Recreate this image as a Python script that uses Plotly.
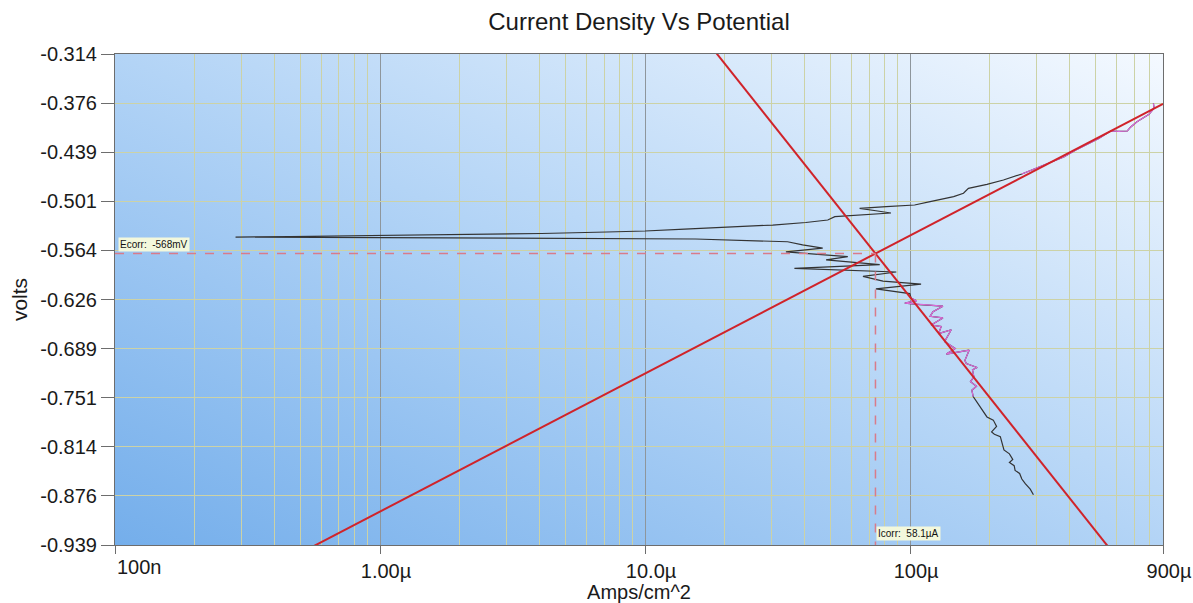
import base64
import numpy as np
import plotly.graph_objects as go

# Potentiodynamic scan: current density (A/cm^2) and potential (V), in scan order
scan_i = [
    2.92e-4, 2.84e-4, 2.72e-4, 2.64e-4, 2.59e-4, 2.49e-4, 2.47e-4, 2.37e-4, 2.44e-4, 2.37e-4,
    2.26e-4, 2.22e-4, 2.19e-4, 2.08e-4, 2.03e-4, 2.12e-4, 2.06e-4, 1.95e-4, 1.89e-4, 1.81e-4, 1.73e-4,
    1.71e-4, 1.78e-4, 1.69e-4, 1.74e-4, 1.72e-4, 1.79e-4, 1.63e-4, 1.61e-4, 1.67e-4, 1.37e-4,
    1.48e-4, 1.35e-4, 1.43e-4, 1.28e-4, 1.31e-4, 1.20e-4, 1.33e-4, 1.19e-4, 1.22e-4, 1.33e-4,
    1.09e-4, 9.55e-5, 1.06e-4, 1.01e-4,
    9.97e-5, 7.43e-5, 1.10e-4, 7.90e-5, 6.64e-5, 8.87e-5, 3.66e-5, 7.68e-5, 4.82e-5, 5.82e-5,
    3.40e-5, 4.68e-5, 3.93e-5, 3.45e-5, 1.55e-5, 6.30e-6, 2.63e-6, 1.26e-6, 6.52e-7, 3.87e-7,
    2.85e-7, 4.60e-7, 6.81e-7, 1.23e-6, 2.25e-6, 4.07e-6, 7.18e-6, 1.00e-5, 1.41e-5, 1.96e-5,
    3.03e-5, 4.04e-5, 4.89e-5, 5.20e-5, 6.45e-5, 8.47e-5, 7.43e-5, 6.45e-5, 8.13e-5, 1.04e-4,
    1.19e-4, 1.46e-4, 1.59e-4, 1.66e-4, 1.95e-4, 2.25e-4, 2.64e-4,
    2.92e-4, 3.33e-4, 3.80e-4, 4.22e-4, 4.72e-4, 5.15e-4, 5.71e-4, 6.14e-4, 6.60e-4, 6.80e-4,
    7.18e-4, 7.97e-4, 8.33e-4, 8.28e-4,
]
scan_v = [
    -0.875, -0.868, -0.861, -0.855, -0.848, -0.844, -0.838, -0.834, -0.830, -0.823,
    -0.818, -0.810, -0.801, -0.798, -0.795, -0.788, -0.780, -0.776, -0.769, -0.760, -0.750,
    -0.742, -0.737, -0.731, -0.725, -0.716, -0.713, -0.708, -0.704, -0.691, -0.696,
    -0.689, -0.680, -0.665, -0.670, -0.661, -0.659, -0.650, -0.648, -0.642, -0.635,
    -0.633, -0.631, -0.628, -0.625,
    -0.619, -0.613, -0.607, -0.603, -0.597, -0.5915, -0.587, -0.582, -0.576, -0.572,
    -0.566, -0.561, -0.557, -0.553, -0.5495, -0.549, -0.548, -0.5476, -0.547, -0.547,
    -0.547, -0.5463, -0.5457, -0.545, -0.5438, -0.5425, -0.5406, -0.5393, -0.5368, -0.5348,
    -0.5317, -0.5285, -0.5253, -0.521, -0.519, -0.5164, -0.5135, -0.5104, -0.5084, -0.5062,
    -0.502, -0.4956, -0.4913, -0.485, -0.4799, -0.4744, -0.4667,
    -0.461, -0.4527, -0.4451, -0.4362, -0.4279, -0.4216, -0.412, -0.4126, -0.412, -0.4069,
    -0.4002, -0.3908, -0.3827, -0.3768,
]

# Potential windows used for the Tafel fits (V)
cathodic_fit_window = (-0.750, -0.625)
anodic_fit_window = (-0.4667, -0.37)

# Tafel fit results
ecorr = -0.568          # V
icorr = 58.1e-6         # A
electrode_area = 0.785  # cm^2
beta_a = 0.1757         # V/decade
beta_c = 0.425          # V/decade

# Axis ticks
x_range = (1e-7, 9e-4)
x_tick_vals = [1e-7, 1e-6, 1e-5, 1e-4, 9e-4]
x_tick_text = ["", "1.00\u00b5", "10.0\u00b5", "100\u00b5", "900\u00b5"]
y_range = (-0.939, -0.314)
y_tick_text = ["-0.939", "-0.876", "-0.814", "-0.751", "-0.689", "-0.626",
               "-0.564", "-0.501", "-0.439", "-0.376", "-0.314"]

FONT = "Arial, Liberation Sans, sans-serif"
SMALL_FONT = "Arial Narrow, Liberation Sans Narrow, Liberation Sans, sans-serif"

i_arr = np.array(scan_i)
v_arr = np.array(scan_v)
icorr_density = icorr / electrode_area


def window_slice(lo, hi):
    idx = np.where((v_arr >= lo - 1e-9) & (v_arr <= hi + 1e-9))[0]
    return slice(idx.min(), idx.max() + 1)


fig = go.Figure()

# Full scan
fig.add_trace(go.Scatter(x=i_arr, y=v_arr, mode="lines",
                         line=dict(color="#333333", width=1.2), hoverinfo="skip"))

# Fit regions highlighted
for lo, hi in (cathodic_fit_window, anodic_fit_window):
    s = window_slice(lo, hi)
    fig.add_trace(go.Scatter(x=i_arr[s], y=v_arr[s], mode="lines",
                             line=dict(color="#dc6ad8", width=1.2), hoverinfo="skip"))

# Tafel lines through (icorr, Ecorr)
tx = np.array([x_range[0], x_range[1]])
log_rel = np.log10(tx) - np.log10(icorr_density)
for slope in (beta_a, -beta_c):
    fig.add_trace(go.Scatter(x=tx, y=ecorr + slope * log_rel, mode="lines",
                             line=dict(color="#d0232a", width=2), hoverinfo="skip"))

# Ecorr / Icorr markers
fig.add_trace(go.Scatter(x=[x_range[0], icorr_density], y=[ecorr, ecorr], mode="lines",
                         line=dict(color="#d97b8a", width=1.5, dash="dash"), hoverinfo="skip"))
fig.add_trace(go.Scatter(x=[icorr_density, icorr_density], y=[ecorr, y_range[0]], mode="lines",
                         line=dict(color="#d97b8a", width=1.5, dash="dash"), hoverinfo="skip"))

fig.add_annotation(xref="paper", x=0, xanchor="left", xshift=3,
                   y=ecorr, yref="y", yanchor="bottom", yshift=2,
                   text=f"Ecorr:\u00a0 {ecorr * 1000:.0f}mV", showarrow=False,
                   bgcolor="#f3f8dc", borderpad=1,
                   font=dict(family=SMALL_FONT, size=10, color="#111111"))
fig.add_annotation(x=np.log10(icorr_density), xref="x", xanchor="left", xshift=1,
                   yref="paper", y=0, yanchor="bottom", yshift=4,
                   text=f"Icorr:\u00a0 {icorr * 1e6:.1f}\u00b5A", showarrow=False,
                   bgcolor="#f3f8dc", borderpad=1,
                   font=dict(family=SMALL_FONT, size=10, color="#111111"))
# First x tick label sits to the right of its tick
fig.add_annotation(x=np.log10(x_tick_vals[0]), xref="x", xanchor="left",
                   yref="paper", y=0, yanchor="top", yshift=-9,
                   text="100n", showarrow=False,
                   font=dict(family=FONT, size=20, color="#1a1a1a"))

# Plot-area background gradient
svg = ('<svg xmlns="http://www.w3.org/2000/svg" width="100" height="100" '
       'viewBox="0 0 100 100" preserveAspectRatio="none">'
       '<defs><linearGradient id="g" x1="0" y1="1" x2="1" y2="0">'
       '<stop offset="0" stop-color="#74aeeb"/>'
       '<stop offset="0.5" stop-color="#b3d4f6"/>'
       '<stop offset="1" stop-color="#f4f9ff"/>'
       '</linearGradient></defs>'
       '<rect width="100" height="100" fill="url(#g)"/></svg>')
bg_src = "data:image/svg+xml;base64," + base64.b64encode(svg.encode()).decode()
fig.add_layout_image(source=bg_src, xref="paper", yref="paper", x=0, y=1,
                     sizex=1, sizey=1, xanchor="left", yanchor="top",
                     sizing="stretch", layer="below")

minor_vals = [m * 10.0 ** d for d in range(-7, -3) for m in range(2, 10)
              if m * 10.0 ** d < x_range[1] * 0.999]

fig.update_xaxes(
    type="log", range=[np.log10(x_range[0]), np.log10(x_range[1])],
    tickmode="array", tickvals=x_tick_vals, ticktext=x_tick_text,
    ticks="outside", ticklen=8, tickcolor="#6d6d6d", ticklabelshift=6,
    showgrid=True, gridcolor="#8e969c", gridwidth=1,
    minor=dict(tickmode="array", tickvals=minor_vals, showgrid=True,
               gridcolor="#ccd2a6", gridwidth=1, ticks=""),
    showline=True, linecolor="#6d6d6d", linewidth=1, mirror=True,
    zeroline=False, automargin=False,
    title=dict(text="Amps/cm^2", standoff=2, font=dict(size=20)),
    tickfont=dict(size=20),
)
fig.update_yaxes(
    range=list(y_range),
    tickmode="array", tickvals=list(np.linspace(y_range[0], y_range[1], 11)),
    ticktext=y_tick_text,
    ticks="outside", ticklen=13, tickcolor="#6d6d6d",
    showgrid=True, gridcolor="#ccd2a6", gridwidth=1,
    showline=True, linecolor="#6d6d6d", linewidth=1, mirror=True,
    zeroline=False, automargin=False,
    title=dict(text="volts", standoff=6, font=dict(size=21)),
    tickfont=dict(size=20),
)

fig.update_layout(
    width=1193, height=603,
    margin=dict(l=115, r=30, t=54, b=58),
    paper_bgcolor="white", plot_bgcolor="rgba(0,0,0,0)",
    showlegend=False,
    font=dict(family=FONT, size=20, color="#1a1a1a"),
    title=dict(text="Current Density Vs Potential", x=0.5, xref="paper",
               y=1 - 22 / 603, yref="container", yanchor="middle",
               font=dict(size=24, color="#1a1a1a")),
)

fig.write_html("out.html")
